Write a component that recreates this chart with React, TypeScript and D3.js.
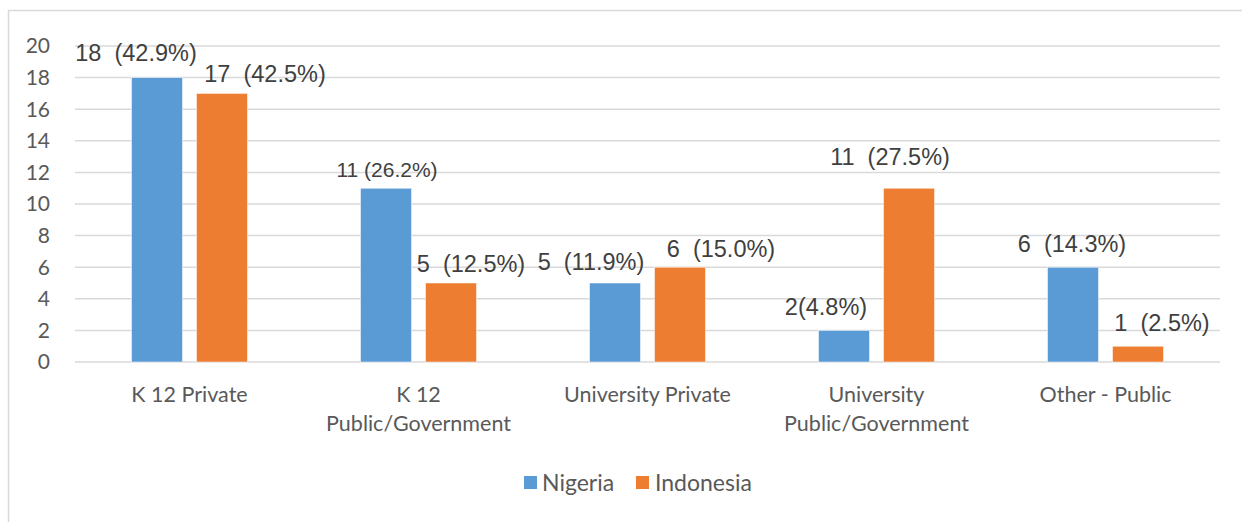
import * as d3 from "d3";

const categories = [
  ["K 12 Private"],
  ["K 12", "Public/Government"],
  ["University Private"],
  ["University", "Public/Government"],
  ["Other - Public"],
];
const seriesNames = ["Nigeria", "Indonesia"];
const nigeria = [18, 11, 5, 2, 6];
const indonesia = [17, 5, 6, 11, 1];
const nigeriaLabels = ["18  (42.9%)", "11 (26.2%)", "5  (11.9%)", "2(4.8%)", "6  (14.3%)"];
const indonesiaLabels = ["17  (42.5%)", "5  (12.5%)", "6  (15.0%)", "11  (27.5%)", "1  (2.5%)"];
const yTicks = [0, 2, 4, 6, 8, 10, 12, 14, 16, 18, 20];

// label nudges (Excel labels were dragged around by hand)
const nigeriaNudge = [
  [-21, -17],
  [1, -11],
  [-24, -13],
  [-18, -15],
  [-1, -15],
];
const indonesiaNudge = [
  [43, -11],
  [20, -11],
  [41, -10],
  [-19, -23],
  [24, -15],
];
const nigeriaSize = [23.5, 21, 23.5, 23.5, 23.5];

const colors = ["#5B9BD5", "#ED7D31"];
const font = "Lato, 'Open Sans', sans-serif";

export default function App() {
  const W = 1242;
  const H = 522;
  const left = 75;
  const right = 1220;
  const top = 46;
  const bottom = 362;

  const x0 = d3
    .scaleBand<number>()
    .domain(d3.range(categories.length))
    .range([left, right]);
  const x1 = d3
    .scaleBand<number>()
    .domain([0, 1])
    .range([56.5, x0.bandwidth() - 56.5])
    .paddingInner(14 / 65);
  const y = d3.scaleLinear().domain([0, 20]).range([bottom, top]);

  const series = [nigeria, indonesia];
  const labels = [nigeriaLabels, indonesiaLabels];
  const nudges = [nigeriaNudge, indonesiaNudge];

  return (
    <svg
      width={W}
      height={H}
      style={{ position: "absolute", left: 0, top: 0, background: "#fff" }}
    >
      <line x1={8.5} x2={8.5} y1={10} y2={H} stroke="#D9D9D9" strokeWidth={1.5} />
      <line x1={8} x2={W} y1={10.5} y2={10.5} stroke="#D9D9D9" strokeWidth={1.5} />

      {yTicks.map((t) => (
        <g key={t}>
          <line
            x1={left}
            x2={right}
            y1={y(t)}
            y2={y(t)}
            stroke="#D9D9D9"
            strokeWidth={1.5}
          />
          <text
            x={50}
            y={y(t)}
            dy="0.35em"
            textAnchor="end"
            fontFamily={font}
            fontSize={21}
            fill="#595959"
          >
            {t}
          </text>
        </g>
      ))}

      {series.map((vals, s) =>
        vals.map((v, i) => {
          const bx = x0(i)! + x1(s)!;
          return (
            <rect
              key={`${s}-${i}`}
              x={bx}
              y={y(v)}
              width={x1.bandwidth()}
              height={y(0) - y(v)}
              fill={colors[s]}
              stroke="#fff"
              strokeWidth={0.5}
            />
          );
        })
      )}

      {series.map((vals, s) =>
        vals.map((v, i) => {
          const cx = x0(i)! + x1(s)! + x1.bandwidth() / 2;
          const [dx, dy] = nudges[s][i];
          return (
            <text
              key={`l${s}-${i}`}
              x={cx + dx}
              y={y(v) + dy}
              textAnchor="middle"
              fontFamily="'Liberation Sans', Arial, sans-serif"
              fontSize={s === 0 ? nigeriaSize[i] : 23.5}
              fill="#404040"
              style={{ whiteSpace: "pre" }}
            >
              {labels[s][i]}
            </text>
          );
        })
      )}

      {categories.map((lines, i) => (
        <text
          key={`c${i}`}
          x={x0(i)! + x0.bandwidth() / 2}
          y={402}
          textAnchor="middle"
          fontFamily={font}
          fontSize={21.5}
          fill="#595959"
        >
          {lines.map((ln, k) => (
            <tspan key={k} x={x0(i)! + x0.bandwidth() / 2} dy={k === 0 ? 0 : 29}>
              {ln}
            </tspan>
          ))}
        </text>
      ))}

      <g fontFamily={font} fontSize={23} fill="#595959">
        <rect x={524} y={476} width={13} height={13} fill={colors[0]} />
        <text x={542} y={483} dy="0.35em">
          {seriesNames[0]}
        </text>
        <rect x={636} y={476} width={13} height={13} fill={colors[1]} />
        <text x={655} y={483} dy="0.35em">
          {seriesNames[1]}
        </text>
      </g>
    </svg>
  );
}
